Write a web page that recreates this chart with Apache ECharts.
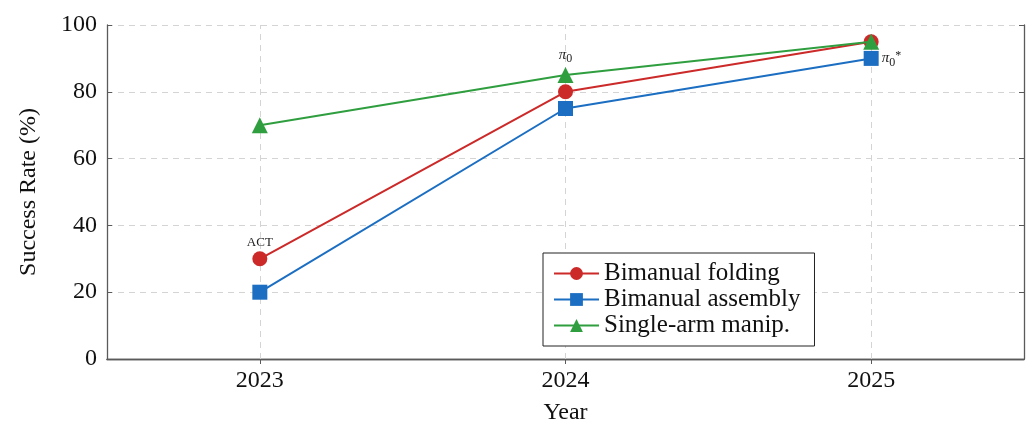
<!DOCTYPE html>
<html>
<head>
<meta charset="utf-8">
<script src="https://cdn.jsdelivr.net/npm/echarts@6/dist/echarts.min.js"></script>
<style>
html,body{margin:0;padding:0;background:#fff;}
#chart{width:1027px;height:424px;}
</style>
</head>
<body>
<div id="chart"></div>
<script>
// ---- data ----
const years = ['2023', '2024', '2025'];
const yTicks = [0, 20, 40, 60, 80, 100];
const seriesNames = ['Bimanual folding', 'Bimanual assembly', 'Single-arm manip.'];
const foldingValues = [30, 80, 95];
const assemblyValues = [20, 75, 90];
const singleArmValues = [70, 85, 95];
const foldingNotes = ['ACT', '', ''];
const assemblyNotes = ['', '', 'pi0star'];
const singleArmNotes = ['', 'pi0', ''];

// ---- styling ----
const FONT = '"Liberation Serif", "DejaVu Serif", serif';
const colors = ['#cc2929', '#1b6ec2', '#2f9e3f'];
const symbols = ['circle', 'rect', 'triangle'];
const symbolSizes = [15, 15, 16];
const AXIS_COLOR = '#5a5a5a';
const GRID_COLOR = '#d4d4d4';

const rich = {
  p: { fontFamily: FONT, fontStyle: 'italic', fontSize: 15, color: '#222' },
  s: { fontFamily: FONT, fontSize: 12, color: '#222', padding: [8, 0, 0, 0] },
  t: { fontFamily: FONT, fontSize: 12, color: '#222', padding: [0, 0, 6, 0] },
  a: { fontFamily: FONT, fontSize: 13, color: '#222' }
};
function noteText(n) {
  if (n === 'pi0') return '{p|π}{s|0}';
  if (n === 'pi0star') return '{p|π}{s|0}{t|*}';
  return '{a|' + n + '}';
}
function buildData(values, notes, pos) {
  return values.map((v, i) => {
    const d = { value: v };
    if (notes[i]) {
      d.label = {
        show: true,
        position: pos,
        distance: pos === 'right' ? 3 : 2,
        formatter: noteText(notes[i]),
        rich: rich
      };
    }
    return d;
  });
}

const valueSets = [foldingValues, assemblyValues, singleArmValues];
const noteSets = [foldingNotes, assemblyNotes, singleArmNotes];
const notePos = ['top', 'right', 'top'];

const series = [
  {
    type: 'line',
    name: '__grid',
    data: [],
    silent: true,
    z: 1,
    markLine: {
      silent: true,
      z: 1,
      symbol: 'none',
      label: { show: false },
      lineStyle: { color: GRID_COLOR, type: [6, 5], width: 1 },
      data: years.map(y => ({ xAxis: y }))
    }
  }
];
seriesNames.forEach((name, k) => {
  series.push({
    type: 'line',
    name: name,
    data: buildData(valueSets[k], noteSets[k], notePos[k]),
    symbol: symbols[k],
    symbolSize: symbolSizes[k],
    z: 3 + k,
    color: colors[k],
    lineStyle: { width: 2, color: colors[k] },
    itemStyle: { color: colors[k] },
    emphasis: { disabled: true },
    animation: false
  });
});

const chart = echarts.init(document.getElementById('chart'), null, { renderer: 'canvas' });
chart.setOption({
  animation: false,
  backgroundColor: '#fff',
  textStyle: { fontFamily: FONT },
  grid: { left: 107, right: 3, top: 25, bottom: 65, containLabel: false, outerBoundsMode: 'none' },
  legend: {
    data: seriesNames,
    orient: 'vertical',
    left: 543,
    top: 253,
    width: 280,
    padding: [8, 14, 8, 10],
    itemGap: 1,
    itemWidth: 45,
    itemHeight: 16,
    borderColor: '#222',
    borderWidth: 1,
    backgroundColor: '#fff',
    textStyle: { fontFamily: FONT, fontSize: 25, color: '#111' },
    selectedMode: false
  },
  xAxis: [
    {
      type: 'category',
      data: years,
      boundaryGap: true,
      name: 'Year',
      nameLocation: 'middle',
      nameGap: 42,
      nameTextStyle: { fontFamily: FONT, fontSize: 24, color: '#111' },
      axisLine: { lineStyle: { color: AXIS_COLOR, width: 1.3 } },
      axisTick: { show: true, inside: true, alignWithLabel: true, length: 5, lineStyle: { color: AXIS_COLOR } },
      axisLabel: { fontFamily: FONT, fontSize: 24, color: '#111', margin: 10 },
      splitLine: { show: false }
    },
    {
      type: 'category',
      data: years,
      boundaryGap: true,
      position: 'top',
      axisLine: { lineStyle: { color: AXIS_COLOR, width: 1.3 } },
      axisTick: { show: true, inside: true, alignWithLabel: true, length: 5, lineStyle: { color: AXIS_COLOR } },
      axisLabel: { show: false },
      splitLine: { show: false }
    }
  ],
  yAxis: [
    {
      type: 'value',
      min: yTicks[0],
      max: yTicks[yTicks.length - 1],
      interval: yTicks[1] - yTicks[0],
      name: 'Success Rate (%)',
      nameLocation: 'middle',
      nameGap: 66,
      nameTextStyle: { fontFamily: FONT, fontSize: 24, color: '#111' },
      axisLine: { show: true, lineStyle: { color: AXIS_COLOR, width: 1.3 } },
      axisTick: { show: true, inside: true, length: 5, lineStyle: { color: AXIS_COLOR } },
      axisLabel: { fontFamily: FONT, fontSize: 24, color: '#111', margin: 10 },
      splitLine: { show: true, lineStyle: { color: GRID_COLOR, type: [6, 5], width: 1 } }
    },
    {
      type: 'value',
      min: yTicks[0],
      max: yTicks[yTicks.length - 1],
      interval: yTicks[1] - yTicks[0],
      position: 'right',
      axisLine: { show: true, lineStyle: { color: AXIS_COLOR, width: 1.3 } },
      axisTick: { show: true, inside: true, length: 5, lineStyle: { color: AXIS_COLOR } },
      axisLabel: { show: false },
      splitLine: { show: false }
    }
  ],
  series: series
});
</script>
</body>
</html>
